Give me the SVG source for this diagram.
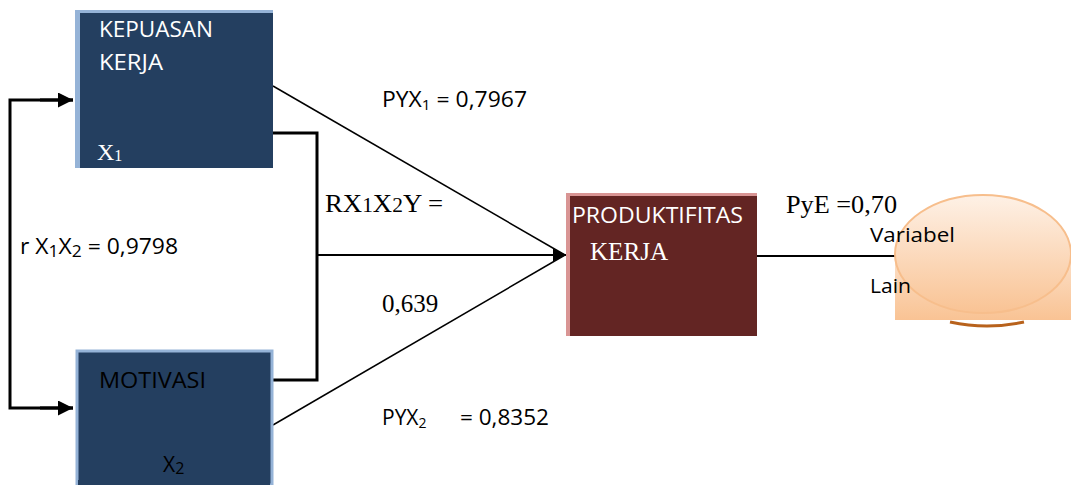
<svg xmlns="http://www.w3.org/2000/svg" width="1071" height="485" viewBox="0 0 1071 485">
<defs>
<style>
.sans{font-family:"Open Sans","Liberation Sans",sans-serif;}
.serif{font-family:"Liberation Serif","Times New Roman",serif;}
.thick{stroke:#000;stroke-width:3;fill:none;}
.thin{stroke:#000;stroke-width:1.5;fill:none;}
.mid{stroke:#000;stroke-width:2.2;fill:none;}
</style>
<marker id="arr" viewBox="0 0 10 10" refX="10" refY="5" markerWidth="5" markerHeight="5" orient="auto" markerUnits="strokeWidth">
<path d="M0,0 L10,5 L0,10 z" fill="#000"/>
</marker>
<marker id="arr2" viewBox="0 0 10 10" refX="10" refY="5" markerWidth="6" markerHeight="6" orient="auto" markerUnits="strokeWidth">
<path d="M0,0 L10,5 L0,10 z" fill="#000"/>
</marker>
<linearGradient id="peach" x1="0" y1="0" x2="0" y2="1">
<stop offset="0" stop-color="#FEF1E6"/>
<stop offset="1" stop-color="#F9C394"/>
</linearGradient>
<linearGradient id="peach2" x1="0" y1="0" x2="0" y2="1">
<stop offset="0" stop-color="#FCE0C8"/>
<stop offset="1" stop-color="#F9C394"/>
</linearGradient>
</defs>

<g id="connectors">
<polyline class="thick" points="73,100 10,100 10,408 73,408"/>
<path d="M40,100 L73,100" class="thick" marker-end="url(#arr)"/>
<path d="M40,408 L73,408" class="thick" marker-end="url(#arr)"/>
<polyline class="thick" points="273,133 317,133 317,380 273,380"/>
<path d="M273,86 L565,255" class="thin"/>
<path d="M273,425 L565,255" class="thin"/>
<path d="M317,255 L566,255" class="mid" marker-end="url(#arr2)"/>
<path d="M757,256 L897,256" class="mid"/>
</g>

<g id="node-kepuasan">
<rect x="75" y="10" width="198" height="158" fill="#243F60"/>
<rect x="75" y="10" width="198" height="3" fill="#95B3D7"/>
<rect x="75" y="10" width="5" height="158" fill="#95B3D7"/>
<text class="sans" x="99" y="37" font-size="21" fill="#fff" textLength="114" lengthAdjust="spacingAndGlyphs">KEPUASAN</text>
<text class="sans" x="99" y="70" font-size="21" fill="#fff" textLength="64" lengthAdjust="spacingAndGlyphs">KERJA</text>
<text class="serif" x="97" y="160" font-size="24" fill="#fff">X<tspan font-size="16" dy="1">1</tspan></text>
</g>

<g id="node-motivasi">
<rect x="77" y="351" width="195" height="134" fill="#243F60" stroke="#95B3D7" stroke-width="3"/>
<rect x="78" y="480" width="192" height="5" fill="#243F60"/>
<text class="sans" x="99" y="388" font-size="21" fill="#000" textLength="107" lengthAdjust="spacingAndGlyphs">MOTIVASI</text>
<text class="sans" x="163" y="472" font-size="21" fill="#000">X<tspan font-size="16" dy="2">2</tspan></text>
</g>

<g id="node-produktifitas">
<rect x="566" y="193" width="191" height="143" fill="#632523"/>
<rect x="566" y="193" width="191" height="3" fill="#D99594"/>
<rect x="566" y="193" width="4" height="143" fill="#D99594"/>
<text class="sans" x="572" y="223" font-size="21" fill="#fff" textLength="171" lengthAdjust="spacingAndGlyphs">PRODUKTIFITAS</text>
<text class="serif" x="590" y="260" font-size="25" fill="#fff" textLength="78" lengthAdjust="spacingAndGlyphs">KERJA</text>
</g>

<g id="node-variabel-lain">
<rect x="895" y="256" width="176" height="64" fill="url(#peach2)"/>
<path d="M950,322 Q987,330 1024,322" stroke="#B8621C" stroke-width="3" fill="none"/>
<ellipse cx="983" cy="254" rx="88" ry="59" fill="url(#peach)" stroke="#F7BE8C" stroke-width="2"/>
<text class="sans" x="870" y="242" font-size="20" fill="#000" textLength="85" lengthAdjust="spacingAndGlyphs">Variabel</text>
<text class="sans" x="870" y="293" font-size="20" fill="#000" textLength="41" lengthAdjust="spacingAndGlyphs">Lain</text>
</g>

<g id="labels">
<text class="sans" x="382" y="107" font-size="21" fill="#000" textLength="145" lengthAdjust="spacingAndGlyphs">PYX<tspan font-size="14" dy="3">1</tspan><tspan dy="-3"> = 0,7967</tspan></text>
<text class="serif" x="325" y="212" font-size="25" fill="#000" textLength="118" lengthAdjust="spacingAndGlyphs">RX<tspan font-size="20">1</tspan>X<tspan font-size="20">2</tspan>Y =</text>
<text class="serif" x="382" y="312" font-size="25" fill="#000">0,639</text>
<text class="sans" x="20" y="254" font-size="21" fill="#000" textLength="158" lengthAdjust="spacingAndGlyphs">r X<tspan font-size="16" dy="3">1</tspan><tspan dy="-3">X</tspan><tspan font-size="16" dy="3">2</tspan><tspan dy="-3"> = 0,9798</tspan></text>
<text class="sans" x="382" y="425" font-size="21" fill="#000">PYX<tspan font-size="14" dy="3">2</tspan></text>
<text class="sans" x="460" y="425" font-size="21" fill="#000" textLength="89" lengthAdjust="spacingAndGlyphs">= 0,8352</text>
<text class="serif" x="786" y="213" font-size="25" fill="#000" textLength="111" lengthAdjust="spacingAndGlyphs">PyE =0,70</text>
</g>
</svg>
